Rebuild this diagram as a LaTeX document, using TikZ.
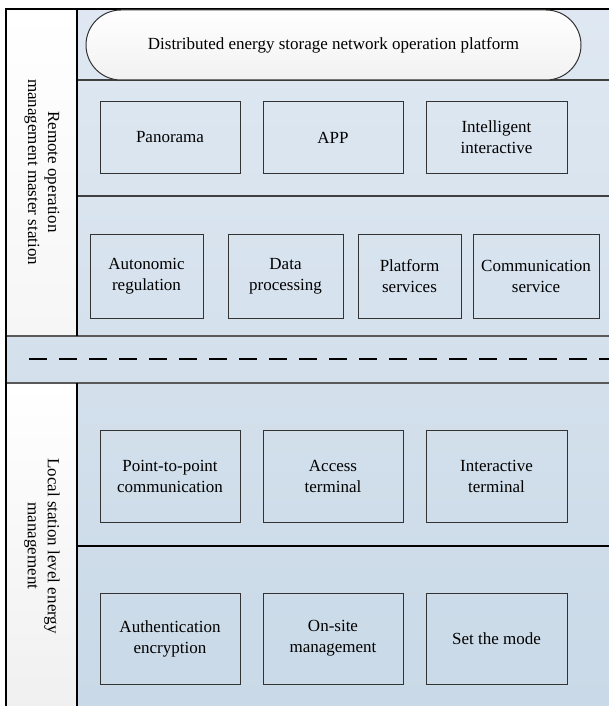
\documentclass[tikz,border=0pt]{standalone}
\usepackage{fontspec}
\setmainfont{Liberation Serif}
\usetikzlibrary{shapes.misc}
\definecolor{bandtop}{HTML}{DFE8F2}
\definecolor{bandbot}{HTML}{C9D9E7}
\definecolor{cellbot}{HTML}{F0F0F0}
\definecolor{edge}{HTML}{333333}
\tikzset{
  unit/.style={draw=edge, line width=1pt, align=center, inner sep=0pt,
    font=\fontsize{17}{21}\selectfont},
  sidelabel/.style={align=center, rotate=-90, inner sep=0pt,
    font=\fontsize{17}{20}\selectfont},
  divider/.style={draw=black!75, line width=1.3pt},
  heavy/.style={draw=black, line width=1.6pt},
}
\begin{document}
\begin{tikzpicture}[x=1pt,y=-1pt]
\useasboundingbox (0,0) rectangle (609,706);

% background bands and side cells
\shade[top color=bandtop, bottom color=bandbot] (6,9) rectangle (612,709);
\shade[top color=white, bottom color=cellbot!60] (6,9) rectangle (77,336);
\shade[top color=white, bottom color=cellbot] (6,383) rectangle (77,709);

% layer dividers
\draw[divider] (77,80) -- (612,80);
\draw[divider] (77,196) -- (612,196);
\draw[divider, draw=black!65, line width=1.6pt] (6,336) -- (612,336);
\draw[divider, draw=black!65, line width=1.6pt] (6,383) -- (612,383);
\draw[heavy] (77,546) -- (612,546);
\draw[heavy] (77,9) -- (77,336);
\draw[heavy] (77,383) -- (77,709);
\draw[black, line width=1.2pt, dash pattern=on 18pt off 12pt] (29,359) -- (612,359);

% outer frame
\draw[heavy] (6,709) -- (6,9) -- (612,9);

% side labels
\node[sidelabel] (remote) at (42,172) {Remote operation\\management master station};
\node[sidelabel] (local) at (42,546) {Local station level energy\\management};

% platform
\node[unit, rounded rectangle, top color=white, bottom color=cellbot!90,
  minimum width=495pt, minimum height=70pt] (platform) at (333.5,45)
  {Distributed energy storage network operation platform};

% application layer
\node[unit, minimum width=140pt, minimum height=71pt] (pano) at (170,137.5) {Panorama};
\node[unit, minimum width=140pt, minimum height=71pt] (app) at (333,137.5) {APP};
\node[unit, minimum width=141pt, minimum height=71pt] (intel) at (496.5,137.5) {Intelligent\\interactive};

% service layer
\node[unit, minimum width=113pt, minimum height=84pt] (auto) at (146.5,276) {Autonomic\\regulation};
\node[unit, minimum width=115pt, minimum height=84pt] (data) at (285.5,276) {Data\\processing};
\node[unit, minimum width=103pt, minimum height=84pt] (plat) at (409.5,276) {Platform\\services};
\node[unit, minimum width=126pt, minimum height=84pt] (comm) at (536,276) {Communication\\service};

% station terminals
\node[unit, minimum width=140pt, minimum height=92pt] (p2p) at (170,476) {Point-to-point\\communication};
\node[unit, minimum width=140pt, minimum height=92pt] (access) at (333,476) {Access\\terminal};
\node[unit, minimum width=141pt, minimum height=92pt] (inter) at (496.5,476) {Interactive\\terminal};

% station functions
\node[unit, minimum width=140pt, minimum height=91pt] (auth) at (170,638.5) {Authentication\\encryption};
\node[unit, minimum width=140pt, minimum height=91pt] (onsite) at (333,638.5) {On-site\\management};
\node[unit, minimum width=141pt, minimum height=91pt] (mode) at (496.5,638.5) {Set the mode};
\end{tikzpicture}
\end{document}
